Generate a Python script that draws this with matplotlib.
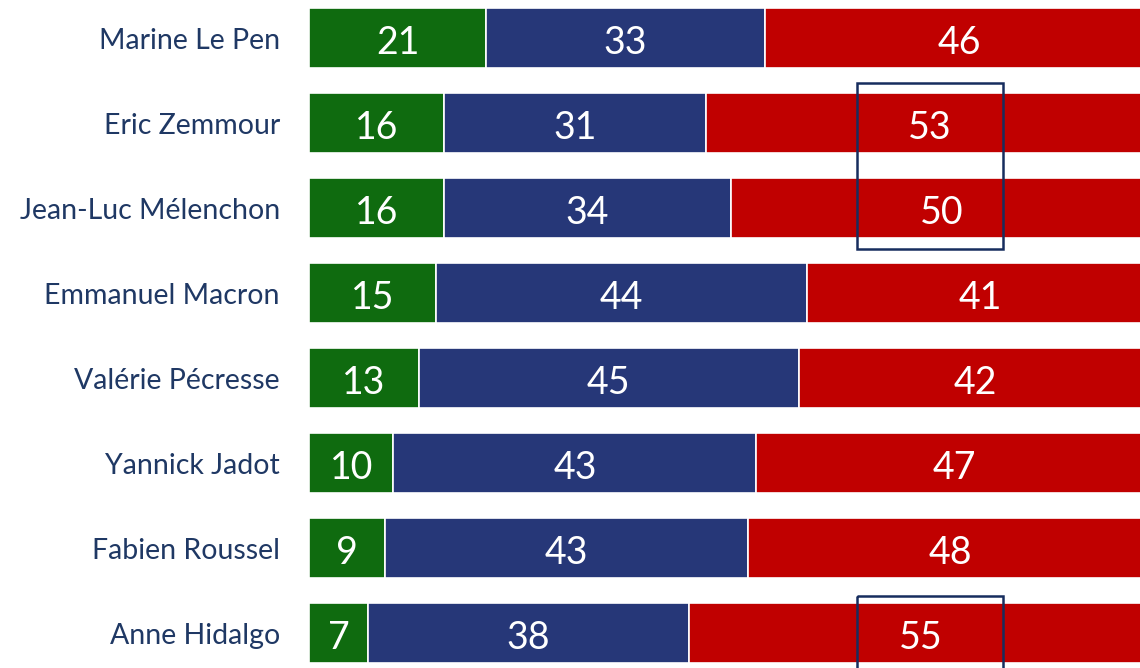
import matplotlib.pyplot as plt
from matplotlib.patches import Rectangle

candidates = ["Marine Le Pen", "Eric Zemmour", "Jean-Luc Mélenchon", "Emmanuel Macron",
              "Valérie Pécresse", "Yannick Jadot", "Fabien Roussel", "Anne Hidalgo"]
green_vals = [21, 16, 16, 15, 13, 10, 9, 7]
blue_vals = [33, 31, 34, 44, 45, 43, 43, 38]
red_vals = [46, 53, 50, 41, 42, 47, 48, 55]

colors = ["#0f6b0f", "#263778", "#c00000"]
navy = "#1f3864"

plt.rcParams['font.family'] = ['Lato', 'DejaVu Sans']

fig = plt.figure(figsize=(11.4, 6.68), dpi=100)
ax = fig.add_axes([309 / 1140, 0, 831 / 1140, 1])

y = list(range(len(candidates)))
left = [0] * len(candidates)
for vals, col in zip([green_vals, blue_vals, red_vals], colors):
    ax.barh(y, vals, left=left, height=0.706, color=col, edgecolor="white", linewidth=1.2)
    for yi, v, l in zip(y, vals, left):
        ax.text(l + v / 2, yi + 0.02, str(v), ha="center", va="center_baseline", color="white", fontsize=27)
    left = [a + b for a, b in zip(left, vals)]

# highlight boxes
ax.add_patch(Rectangle((64.9, 0.53), 17.3, 1.95, fill=False, edgecolor="#172d5e", linewidth=1.8, zorder=5))
ax.add_patch(Rectangle((64.9, 6.56), 17.3, 1.5, fill=False, edgecolor="#172d5e", linewidth=1.8, zorder=5,
                       clip_on=False))

ax.set_xlim(0, 98.45)
ax.set_ylim(7.41, -0.447)
ax.set_yticks(y)
ax.set_yticklabels(candidates, fontsize=20.5, color=navy)
ax.tick_params(axis="y", length=0, pad=21)
ax.set_xticks([])
for s in ax.spines.values():
    s.set_visible(False)

fig.savefig("out.png", dpi=100)
